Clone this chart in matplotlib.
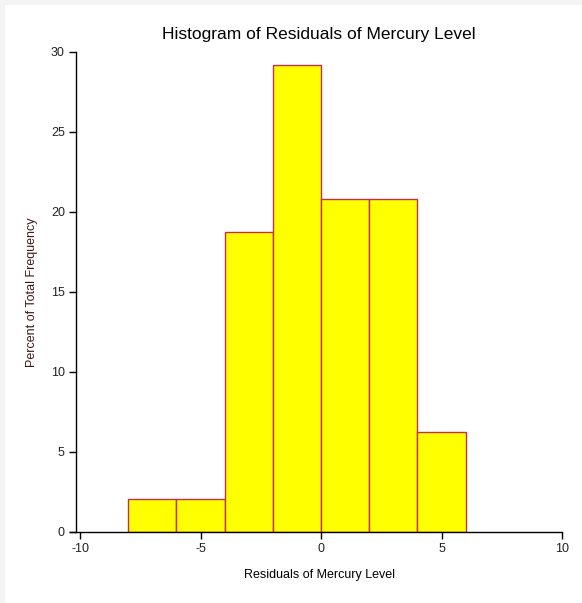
import matplotlib
matplotlib.use('Agg')
import matplotlib.pyplot as plt
from matplotlib.patches import Rectangle

plt.rcParams['font.family'] = ['Liberation Sans', 'DejaVu Sans']
plt.rcParams['axes.unicode_minus'] = False

# histogram bins of the residuals (width 2) and percent of total frequency
bin_edges = [-8, -6, -4, -2, 0, 2, 4, 6]
percents = [2.08, 2.08, 18.75, 29.17, 20.83, 20.83, 6.25]

x_ticks = [-10, -5, 0, 5, 10]
y_ticks = [0, 5, 10, 15, 20, 25, 30]

fig = plt.figure(figsize=(5.82, 6.03), dpi=100, facecolor='#f4f4f4')
# white panel, leaving a thin grey strip at top and left
fig.patches.append(Rectangle((5 / 582, 0), 1, 598 / 603, transform=fig.transFigure,
                             facecolor='white', edgecolor='none', zorder=-10))

ax = fig.add_axes([76 / 582, 71 / 603, 486 / 582, 480 / 603])
ax.set_facecolor('none')

widths = [b - a for a, b in zip(bin_edges[:-1], bin_edges[1:])]
ax.bar(bin_edges[:-1], percents, width=widths, align='edge',
       color='#ffff00', edgecolor='#c03048', linewidth=1.0, zorder=2)

ax.set_xlim(-10.17, 10)
ax.set_ylim(0, 30)
ax.set_xticks(x_ticks)
ax.set_yticks(y_ticks)

for side in ('top', 'right'):
    ax.spines[side].set_visible(False)
ax.spines['left'].set_linewidth(1.0)
ax.spines['bottom'].set_linewidth(1.0)
ax.spines['bottom'].set_bounds(-10.42, 10)
ax.tick_params(axis='both', length=5, width=1, labelsize=9, color='black',
               labelcolor='#222222', pad=3)

ax.set_title('Histogram of Residuals of Mercury Level', fontsize=12.5, pad=9)
ax.set_xlabel('Residuals of Mercury Level', fontsize=9, labelpad=10)
ax.set_ylabel('Percent of Total Frequency', fontsize=9, labelpad=9,
              color='#3a1a1a')

fig.savefig('out.png', dpi=100, facecolor=fig.get_facecolor())
